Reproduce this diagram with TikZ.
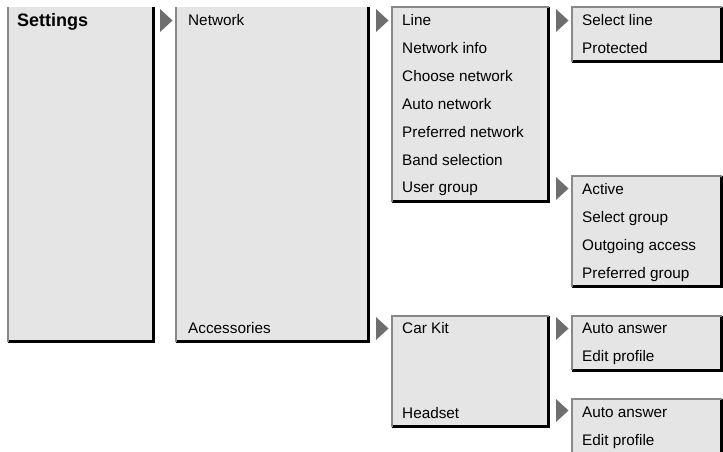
\documentclass[tikz,border=0pt]{standalone}
\usepackage{fontspec}
\setmainfont{Liberation Sans}
\usetikzlibrary{calc}

\definecolor{boxgray}{HTML}{E5E5E5}
\definecolor{edgegray}{HTML}{888888}
\definecolor{tipgray}{HTML}{6E6E6E}

% box: name, left, top, right, bottom (line centres)
\newcommand{\menubox}[5]{%
  \node[menubox, minimum width={(#4-#2)*1pt}, minimum height={(#5-#3)*1pt}] (#1) at (#2,#3) {};
  \draw[darkedge] (#1.north east) -- (#1.south east) -- (#1.south west);
  \draw[litedge] (#1.south west) -- (#1.north west) -- (#1.north east);
}
% same box, open at the top
\newcommand{\colbox}[5]{%
  \node[menubox, minimum width={(#4-#2)*1pt}, minimum height={(#5-#3)*1pt}] (#1) at (#2,#3) {};
  \draw[darkedge] (#1.north east) -- (#1.south east) -- (#1.south west);
  \draw[litedge] (#1.south west) -- (#1.north west);
}
% grey pointer in front of a box, shifted down by #2
\newcommand{\pointer}[2]{%
  \fill[tipgray] ($(#1.north west)+(-16,#2)$) -- ++(12.5,11.5) -- ++(-12.5,11.5) -- cycle;
}

\begin{document}
\begin{tikzpicture}[x=1pt,y=-1pt,
    menubox/.style={fill=boxgray, inner sep=0pt, outer sep=0pt, anchor=north west},
    item/.style={anchor=base west, inner sep=0pt, font=\fontsize{15.3}{18}\selectfont},
    litedge/.style={draw=edgegray, line width=2pt},
    darkedge/.style={draw=black, line width=3pt}
]
\useasboundingbox (0,0) rectangle (723,452);

% --- columns ---
\colbox{settings}{8}{7}{153.5}{341.5}
\colbox{network}{176}{7}{368.5}{341.5}

% --- network submenu ---
\menubox{netmenu}{392}{7}{548.5}{201.5}
\menubox{linemenu}{572}{7}{721.5}{62}
\menubox{groupmenu}{572}{176}{721.5}{286.5}

% --- accessories submenu ---
\menubox{accmenu}{392}{316}{548.5}{426.5}
\menubox{carkitmenu}{572}{316}{721.5}{370}
\menubox{headsetmenu}{572}{399}{721.5}{470}

% --- pointers ---
\pointer{network}{2}
\pointer{netmenu}{2}
\pointer{linemenu}{2}
\pointer{groupmenu}{1}
\pointer{accmenu}{1}
\pointer{carkitmenu}{1}
\pointer{headsetmenu}{0}

% --- labels ---
\node[item, font=\fontsize{18}{20}\selectfont\bfseries] (settingstxt) at (17,26.5) {Settings};
\node[item] (networktxt) at (188,26) {Network};
\node[item] (accessoriestxt) at (188,333) {Accessories};

\node[item] (linetxt) at (402,26) {Line};
\node[item] (netinfotxt) at (402,53.5) {Network info};
\node[item] (choosetxt) at (402,81.6) {Choose network};
\node[item] (autonettxt) at (402,109.4) {Auto network};
\node[item] (preftxt) at (402,137.2) {Preferred network};
\node[item] (bandtxt) at (402,165) {Band selection};
\node[item] (usergrouptxt) at (402,192.8) {User group};

\node[item] (selectlinetxt) at (582,26) {Select line};
\node[item] (protectedtxt) at (582,53.5) {Protected};

\node[item] (activetxt) at (582,194) {Active};
\node[item] (selectgrouptxt) at (582,222) {Select group};
\node[item] (outgoingtxt) at (582,250) {Outgoing access};
\node[item] (prefgrouptxt) at (582,278) {Preferred group};

\node[item] (carkittxt) at (402,333) {Car Kit};
\node[item] (headsettxt) at (402,418) {Headset};

\node[item] (answerAtxt) at (582,333) {Auto answer};
\node[item] (profileAtxt) at (582,361) {Edit profile};
\node[item] (answerBtxt) at (582,417) {Auto answer};
\node[item] (profileBtxt) at (582,445) {Edit profile};
\end{tikzpicture}
\end{document}
